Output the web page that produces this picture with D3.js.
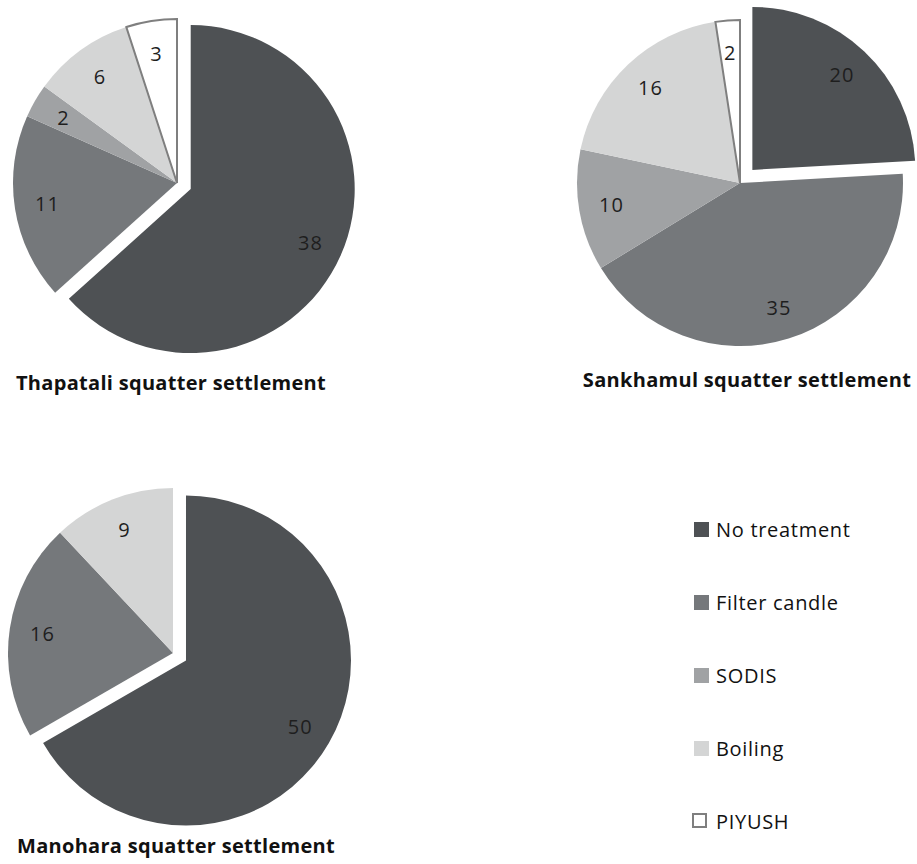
<!DOCTYPE html>
<html>
<head>
<meta charset="utf-8">
<script src="https://cdn.jsdelivr.net/npm/d3@7"></script>
<style>
  body { margin: 0; background: #fff; }
  svg { display: block; }
</style>
</head>
<body>
<svg id="chart" width="917" height="864"></svg>
<script>
// ---- data ----
const categories = ["No treatment", "Filter candle", "SODIS", "Boiling", "PIYUSH"];
const thapataliValues = [38, 11, 2, 6, 3];
const sankhamulValues = [20, 35, 10, 16, 2];
const manoharaValues  = [50, 16, 0, 9, 0];
const settlementTitles = ["Thapatali squatter settlement", "Sankhamul squatter settlement", "Manohara squatter settlement"];
const explodedCategory = "No treatment";

// ---- styles ----
const colors = {
  "No treatment": "#4e5154",
  "Filter candle": "#75787b",
  "SODIS": "#a0a2a4",
  "Boiling": "#d4d5d5",
  "PIYUSH": "#ffffff"
};
const strokeFor = c => c === "PIYUSH" ? "#7f7f7f" : "none";
const fontFamily = "'Open Sans', Lato, sans-serif";

const svg = d3.select("#chart");

const pies = [
  { values: thapataliValues, title: settlementTitles[0], cx: 177, cy: 183, r: 164, explode: 15, tx: 171, ty: 390 },
  { values: sankhamulValues, title: settlementTitles[1], cx: 740, cy: 183, r: 163, explode: 18, tx: 747, ty: 387 },
  { values: manoharaValues,  title: settlementTitles[2], cx: 173, cy: 653, r: 165, explode: 15, tx: 176, ty: 853 }
];

const pieGen = d3.pie().sort(null).value(d => d.value);

pies.forEach(p => {
  const data = categories.map((c, i) => ({ category: c, value: p.values[i] }));
  const arcs = pieGen(data);
  const arc = d3.arc().innerRadius(0).outerRadius(p.r);
  const labelArc = d3.arc().innerRadius(p.r * 0.8).outerRadius(p.r * 0.8);
  const g = svg.append("g").attr("transform", `translate(${p.cx},${p.cy})`);

  const offset = d => {
    if (d.data.category !== explodedCategory) return [0, 0];
    const mid = (d.startAngle + d.endAngle) / 2;
    return [Math.sin(mid) * p.explode, -Math.cos(mid) * p.explode];
  };

  const slices = arcs.filter(d => d.value > 0);

  g.selectAll("path.slice")
    .data(slices)
    .join("path")
    .attr("class", "slice")
    .attr("d", arc)
    .attr("transform", d => { const o = offset(d); return `translate(${o[0]},${o[1]})`; })
    .attr("fill", d => colors[d.data.category])
    .attr("stroke", d => strokeFor(d.data.category))
    .attr("stroke-width", 2)
    .attr("stroke-linejoin", "miter");

  g.selectAll("text.val")
    .data(slices)
    .join("text")
    .attr("class", "val")
    .attr("transform", d => {
      const c = labelArc.centroid(d);
      const o = offset(d);
      return `translate(${c[0] + o[0]},${c[1] + o[1]})`;
    })
    .attr("text-anchor", "middle")
    .attr("dy", "0.36em")
    .attr("font-family", fontFamily)
    .attr("font-size", 20)
    .attr("letter-spacing", 1)
    .attr("fill", "#1e1e1e")
    .text(d => d.value);

  svg.append("text")
    .attr("x", p.tx)
    .attr("y", p.ty)
    .attr("text-anchor", "middle")
    .attr("font-family", fontFamily)
    .attr("font-weight", "bold")
    .attr("font-size", 20)
    .attr("letter-spacing", 0.3)
    .attr("fill", "#111")
    .text(p.title);
});

// ---- legend ----
const legendY = d3.scalePoint().domain(categories).range([530, 822]);
const legend = svg.append("g");
const items = legend.selectAll("g.item")
  .data(categories)
  .join("g")
  .attr("class", "item")
  .attr("transform", c => `translate(0,${legendY(c)})`);

items.append("rect")
  .attr("x", c => c === "PIYUSH" ? 693 : 694)
  .attr("y", -8)
  .attr("width", c => c === "PIYUSH" ? 13 : 15)
  .attr("height", c => c === "PIYUSH" ? 13 : 15)
  .attr("fill", c => colors[c])
  .attr("stroke", c => strokeFor(c))
  .attr("stroke-width", 2);

items.append("text")
  .attr("x", 716)
  .attr("y", 7)
  .attr("font-family", fontFamily)
  .attr("font-size", 20)
  .attr("letter-spacing", 0.7)
  .attr("fill", "#111")
  .text(c => c);
</script>
</body>
</html>
